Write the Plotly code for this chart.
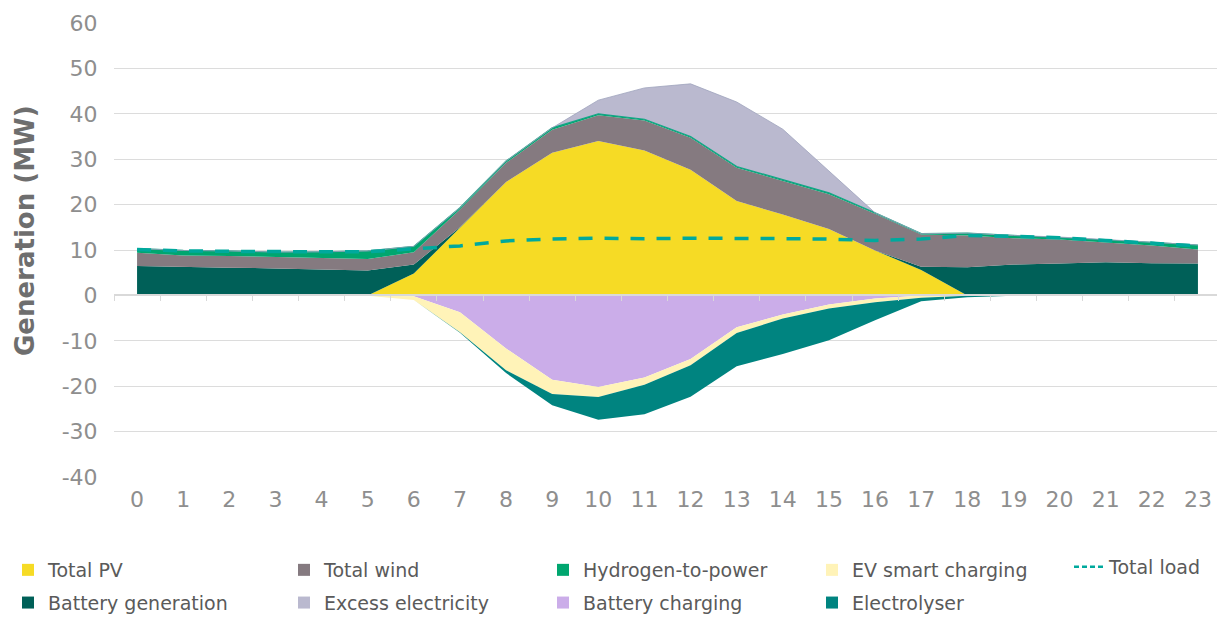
import plotly.graph_objects as go

hours = list(range(24))

total_pv = [0, 0, 0, 0, 0, 0, 4.8, 15.0, 25.0, 31.4, 34.0, 31.9, 27.7, 20.8, 17.8, 14.6, 9.9, 5.6, 0, 0, 0, 0, 0, 0]
battery_gen = [6.5, 6.25, 6.1, 5.95, 5.8, 5.5, 2.0, 0, 0, 0, 0, 0, 0, 0, 0, 0, 0, 0.7, 6.2, 6.8, 7.0, 7.3, 7.1, 7.0]
total_wind = [2.9, 2.55, 2.6, 2.55, 2.5, 2.5, 2.7, 3.9, 4.2, 5.1, 5.7, 6.6, 7.0, 7.3, 7.4, 7.7, 8.1, 7.1, 7.0, 5.8, 5.3, 4.4, 3.9, 3.1]
hydrogen_to_power = [0.9, 1.1, 1.1, 1.05, 1.3, 1.8, 1.3, 0.4, 0.4, 0.4, 0.3, 0.3, 0.3, 0.3, 0.3, 0.3, 0.2, 0.2, 0.5, 0.6, 0.55, 0.6, 0.7, 1.0]
excess = [0, 0, 0, 0, 0, 0, 0, 0, 0, 0, 3.0, 6.9, 11.6, 14.2, 11.1, 4.8, 0, 0, 0, 0, 0, 0, 0, 0]

battery_charging = [0, 0, 0, 0, 0, 0, -0.2, -3.7, -11.7, -18.6, -20.2, -18.1, -14.0, -7.0, -4.2, -2.0, -0.7, 0, 0, 0, 0, 0, 0, 0]
ev_smart = [-0.1, -0.1, -0.1, -0.1, -0.1, -0.1, -0.8, -4.4, -4.8, -3.1, -2.2, -1.6, -1.4, -1.3, -0.9, -0.9, -0.8, -0.5, -0.1, -0.05, -0.05, -0.05, -0.05, -0.05]
electrolyser = [0, 0, 0, 0, 0, 0, 0, -0.1, -0.6, -2.5, -5.0, -6.5, -6.9, -7.3, -7.8, -7.0, -4.0, -0.8, -0.3, 0, 0, 0, 0, 0]

total_load = [10.1, 9.8, 9.7, 9.6, 9.6, 9.6, 10.2, 10.9, 12.0, 12.4, 12.6, 12.5, 12.6, 12.6, 12.5, 12.4, 12.1, 12.4, 13.2, 13.0, 12.7, 12.1, 11.5, 10.9]

y_ticks = [-40, -30, -20, -10, 0, 10, 20, 30, 40, 50, 60]
y_tick_labels = ["-40", "-30", "-20", "-10", "0", "10", "20", "30", "40", "50", "60"]

C_PV = "#F6DB25"
C_BATT = "#006058"
C_WIND = "#857A80"
C_H2P = "#00A66F"
C_EXCESS = "#BAB9CF"
C_EV = "#FFF3B8"
C_BCH = "#CBADE9"
C_ELEC = "#008480"
C_LOAD = "#00A99D"

fig = go.Figure()

def area(y, color, group, lw=0, lc=None):
    fig.add_trace(go.Scatter(
        x=hours, y=y, mode="lines", stackgroup=group,
        line=dict(width=lw, color=lc or color), fillcolor=color,
        showlegend=False, hoverinfo="skip"))

area(total_pv, C_PV, "pos")
area(battery_gen, C_BATT, "pos")
area(total_wind, C_WIND, "pos")
area(hydrogen_to_power, C_H2P, "pos", lw=1.2, lc="#13a486")
area(excess, C_EXCESS, "pos", lw=0.8, lc="#9ea3bd")
area(battery_charging, C_BCH, "neg")
area(ev_smart, C_EV, "neg")
area(electrolyser, C_ELEC, "neg")

fig.add_trace(go.Scatter(x=hours, y=total_load, mode="lines",
                         line=dict(color=C_LOAD, width=3.5, dash="14px,12px"),
                         showlegend=False, hoverinfo="skip"))

# secondary x axis that draws the zero line with tick marks between hours
fig.add_trace(go.Scatter(x=hours, y=[None] * len(hours), xaxis="x2", mode="lines",
                         showlegend=False, hoverinfo="skip"))

legend_items = [
    ("Total PV", C_PV, "legend"), ("Battery generation", C_BATT, "legend"),
    ("Total wind", C_WIND, "legend2"), ("Excess electricity", C_EXCESS, "legend2"),
    ("Hydrogen-to-power", C_H2P, "legend3"), ("Battery charging", C_BCH, "legend3"),
    ("EV smart charging", C_EV, "legend4"), ("Electrolyser", C_ELEC, "legend4"),
]
for name, color, lg in legend_items:
    fig.add_trace(go.Scatter(x=[None], y=[None], mode="markers", name=name,
                             marker=dict(symbol="square", size=12, color=color),
                             legend=lg, legendgroup=name))
fig.add_trace(go.Scatter(x=[None], y=[None], mode="lines", name="Total load",
                         line=dict(color=C_LOAD, width=2.5, dash="5px,3px"),
                         legend="legend5", legendgroup="Total load"))

# page has an 8px body margin, so the figure is drawn 8px in from the corner
OFF = 8
W, H = 1225 - OFF, 619 - OFF
legend_font = dict(family="DejaVu Sans, Open Sans, sans-serif", size=19, color="#5a5a5a")
def lg(left, top):
    return dict(xref="container", yref="container", x=max(left - OFF, 0) / W,
                y=1 - (top - OFF) / H,
                xanchor="left", yanchor="top", orientation="v", font=legend_font,
                traceorder="grouped", tracegroupgap=5, bgcolor="rgba(0,0,0,0)",
                itemwidth=30)

tick_font = dict(family="DejaVu Sans, Open Sans, sans-serif", size=22, color="#8e8e8e")

PLOT_L, PLOT_T, PLOT_W, PLOT_H = 114, 23, 1107, 454

fig.update_layout(
    width=W, height=H,
    margin=dict(l=PLOT_L - OFF, r=W - (PLOT_L - OFF) - PLOT_W, t=PLOT_T - OFF,
                b=H - (PLOT_T - OFF) - PLOT_H, autoexpand=False),
    plot_bgcolor="white", paper_bgcolor="white",
    showlegend=True,
    legend=lg(8, 551), legend2=lg(284, 551), legend3=lg(543, 551),
    legend4=lg(812, 551), legend5=lg(1069, 548),
    xaxis=dict(range=[-0.5, 23.5], tickmode="array", tickvals=hours,
               ticktext=[str(h) for h in hours], showgrid=False, zeroline=False,
               showline=False, ticks="outside", ticklen=3, tickcolor="rgba(0,0,0,0)",
               tickfont=tick_font),
    xaxis2=dict(overlaying="x", anchor="free", position=0.4, range=[-0.5, 23.5],
                showgrid=False, zeroline=False, showline=True, linecolor="#d9d9d9",
                linewidth=1.5, showticklabels=False, tickmode="linear", tick0=0.5,
                dtick=1, ticks="outside", ticklen=5, tickcolor="#d9d9d9", tickwidth=1.2),
    yaxis=dict(range=[-40, 60], tickmode="array", tickvals=y_ticks, ticktext=y_tick_labels,
               showgrid=True, gridcolor="#dcdcdc", gridwidth=1.3, zeroline=False,
               showline=False, ticks="outside", ticklen=11, tickcolor="rgba(0,0,0,0)",
               tickfont=tick_font),
    annotations=[dict(text="<b>Generation (MW)</b>", textangle=-90, showarrow=False,
                      xref="paper", yref="paper",
                      x=(25 - PLOT_L) / PLOT_W, y=(PLOT_T + PLOT_H - 231) / PLOT_H,
                      xanchor="center", yanchor="middle",
                      font=dict(family="DejaVu Sans, Open Sans, sans-serif", size=26,
                                color="#6e6e6e"))],
)

fig.write_html("out.html")
